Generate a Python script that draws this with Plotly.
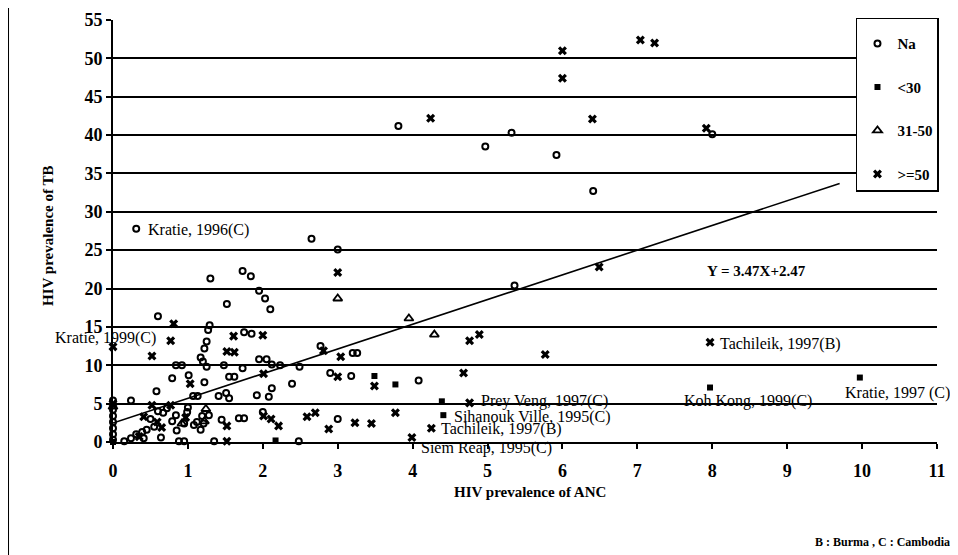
import plotly.graph_objects as go

# ---------------- data ----------------
na_x = [3.81, 5.32, 4.97, 5.92, 6.41, 8.0, 5.36, 0.31, 2.65, 3.0,
        1.3, 1.73, 1.84, 1.95, 2.03, 2.1, 1.52, 0.6,
        1.29, 1.27, 1.25, 1.22, 1.17, 1.2, 1.25,
        1.75, 1.85,
        0.84, 0.92, 1.48, 1.73, 1.95, 2.05, 2.12, 2.23, 2.49, 2.77, 3.2, 3.26,
        0.79, 1.01, 1.22, 1.55, 1.62, 2.12, 2.39, 2.9, 3.18, 4.08,
        0.58, 1.07, 1.13, 1.41, 1.51, 1.55, 1.92, 2.08,
        0.0, 0.24, 3.0,
        0.67, 0.72, 0.79, 0.95, 0.84, 0.99, 1.08, 1.12, 1.19, 1.21, 1.17, 1.28, 1.45, 1.68, 1.75, 2.0,
        0.15, 0.24, 0.31, 0.39, 0.45, 0.41, 0.64, 0.88, 0.95, 1.35, 2.48,
        0.0, 0.0, 0.0, 0.0, 0.0, 0.0,
        0.5, 0.55, 0.85, 1.0, 0.6]
na_y = [41.2, 40.3, 38.5, 37.4, 32.7, 40.1, 20.4, 27.8, 26.5, 25.1,
        21.3, 22.3, 21.6, 19.7, 18.7, 17.3, 18.0, 16.4,
        15.2, 14.6, 13.1, 12.2, 11.0, 10.5, 9.8,
        14.3, 14.1,
        10.0, 10.0, 10.0, 9.6, 10.8, 10.8, 10.1, 10.0, 9.8, 12.5, 11.6, 11.6,
        8.3, 8.7, 7.8, 8.5, 8.5, 7.0, 7.6, 9.0, 8.6, 8.0,
        6.6, 6.0, 6.0, 6.0, 6.4, 5.7, 6.1, 5.9,
        5.4, 5.4, 3.0,
        3.8, 4.4, 2.7, 2.4, 3.5, 3.9, 2.2, 2.6, 3.4, 2.4, 1.6, 3.5, 2.9, 3.1, 3.1, 3.9,
        0.1, 0.5, 1.0, 1.3, 1.6, 0.5, 0.6, 0.1, 0.1, 0.1, 0.1,
        0.3, 1.0, 1.8, 2.6, 3.4, 4.2,
        3.0, 2.0, 1.5, 4.5, 4.0]

lt30_x = [4.39, 4.41, 7.97, 9.97, 3.49, 3.77, 2.17, 0.0]
lt30_y = [5.3, 3.5, 7.1, 8.4, 8.6, 7.5, 0.2, 0.0]

mid_x = [3.0, 3.95, 4.29, 0.92, 1.22, 1.24, 0.0]
mid_y = [18.7, 16.1, 14.0, 2.4, 2.7, 4.3, 4.6]

ge50_x = [6.0, 6.0, 7.04, 7.23, 4.24, 6.4, 7.92, 6.49, 3.0,
          0.81, 0.77, 0.0, 0.52, 1.61, 2.0, 1.52, 1.62,
          2.81, 3.04, 4.76, 4.89, 5.77, 4.68, 7.97,
          2.01, 3.0, 3.49, 1.03, 4.76,
          2.59, 2.7, 2.88, 3.23, 3.45, 3.77, 4.25, 3.99,
          1.52, 2.01, 2.11, 2.21,
          1.52, 0.52, 0.41, 0.59, 0.77, 0.65, 0.97, 0.35, 0.0]
ge50_y = [51.0, 47.4, 52.4, 52.0, 42.2, 42.1, 40.9, 22.8, 22.1,
          15.4, 13.2, 12.4, 11.2, 13.8, 13.9, 11.8, 11.7,
          11.9, 11.1, 13.2, 14.0, 11.4, 9.0, 13.0,
          8.9, 8.5, 7.3, 7.6, 5.1,
          3.3, 3.8, 1.7, 2.5, 2.4, 3.8, 1.8, 0.6,
          2.1, 3.4, 3.0, 2.1,
          0.1, 4.8, 3.3, 2.6, 4.8, 1.9, 3.2, 0.7, 5.0]

trend_x = [0.0, 9.7]
trend_y = [2.47, 33.7]

x_ticks = list(range(0, 12))
y_ticks = list(range(0, 60, 5))

labels = ["Kratie, 1996(C)", "Kratie, 1999(C)", "Tachileik, 1997(B)", "Koh Kong, 1999(C)",
          "Kratie, 1997 (C)", "Prey Veng, 1997(C)", "Sihanouk Ville, 1995(C)",
          "Tachileik, 1997(B)", "Siem Reap, 1995(C)"]
label_x = [0.44, -0.8, 8.07, 7.6, 9.75, 4.88, 4.53, 4.35, 4.08]
label_y = [27.6, 13.6, 12.8, 5.4, 6.4, 5.4, 3.2, 1.7, -0.8]

X_MAX, Y_MAX = 11, 55

# ---------------- figure ----------------
SERIF = "Liberation Serif, Times New Roman, serif"
fig = go.Figure()

fig.add_trace(go.Scatter(x=trend_x, y=trend_y, mode="lines", line=dict(color="black", width=1.6),
                         showlegend=False, hoverinfo="skip"))
fig.add_trace(go.Scatter(x=na_x, y=na_y, mode="markers", name="Na", legendgroup="a",
                         marker=dict(symbol="circle-open", size=6, color="black", line=dict(width=2, color="black")),
                         cliponaxis=False))
fig.add_trace(go.Scatter(x=lt30_x, y=lt30_y, mode="markers", name="<30", legendgroup="b",
                         marker=dict(symbol="square", size=6, color="black"), cliponaxis=False))
fig.add_trace(go.Scatter(x=mid_x, y=mid_y, mode="markers", name="31-50", legendgroup="c",
                         marker=dict(symbol="triangle-up-open", size=8, color="black", line=dict(width=1.8, color="black")),
                         cliponaxis=False))
fig.add_trace(go.Scatter(x=ge50_x, y=ge50_y, mode="markers", name=">=50", legendgroup="d",
                         marker=dict(symbol="x", size=8, color="black", line=dict(width=0)),
                         cliponaxis=False))

# point labels (paper coords so labels outside the axis range still show)
for t, lx, ly in zip(labels, label_x, label_y):
    fig.add_annotation(xref="paper", yref="paper", x=lx / X_MAX, y=ly / Y_MAX, text=t, showarrow=False,
                       xanchor="left", yanchor="middle",
                       font=dict(family=SERIF, size=16, color="black"))

fig.add_annotation(x=7.9, y=22.3, text="<b>Y = 3.47X+2.47</b>", showarrow=False, xanchor="left",
                   yanchor="middle", font=dict(family=SERIF, size=15, color="black"))
fig.add_annotation(xref="paper", yref="paper", x=1.018, y=-0.238, text="<b>B : Burma , C : Cambodia</b>",
                   showarrow=False, xanchor="right", yanchor="middle",
                   font=dict(family=SERIF, size=12, color="black"))

# axis titles
fig.add_annotation(xref="paper", yref="paper", x=0.506, y=-0.118, text="<b>HIV prevalence of ANC</b>",
                   showarrow=False, xanchor="center", yanchor="middle",
                   font=dict(family=SERIF, size=15, color="black"))
fig.add_annotation(xref="paper", yref="paper", x=-0.079, y=0.488, text="<b>HIV prevalence of TB</b>",
                   showarrow=False, xanchor="center", yanchor="middle", textangle=-90,
                   font=dict(family=SERIF, size=15, color="black"))

# left frame line
fig.add_shape(type="line", xref="paper", yref="paper", x0=-0.1274, x1=-0.1274, y0=-0.27, y1=1.05,
              line=dict(color="black", width=2))

fig.update_layout(
    width=958, height=555,
    margin=dict(l=105, r=29, t=10, b=121),
    paper_bgcolor="white", plot_bgcolor="white",
    font=dict(family=SERIF, color="black"),
    showlegend=True,
    legend=dict(x=1.0024, y=1.005, xanchor="right", yanchor="top",
                bordercolor="black", borderwidth=1.5, bgcolor="white",
                tracegroupgap=21, itemwidth=30,
                title=dict(text=" ", font=dict(size=6)),
                font=dict(family=SERIF, size=15, color="black", weight="bold")),
    xaxis=dict(range=[0, X_MAX], tickvals=x_ticks, ticktext=[f"<b>{v}</b>" for v in x_ticks],
               showgrid=False, zeroline=False, showline=True, linecolor="black", linewidth=2,
               ticks="outside", ticklen=5, tickwidth=1.5, tickcolor="black", automargin=False,
               tickfont=dict(family=SERIF, size=18, color="black"), ticklabelstandoff=6),
    yaxis=dict(range=[0, Y_MAX], tickvals=y_ticks, ticktext=[f"<b>{v}</b>" for v in y_ticks],
               showgrid=True, gridcolor="black", gridwidth=1.5, zeroline=False,
               showline=True, linecolor="black", linewidth=2, automargin=False,
               ticks="outside", ticklen=5, tickwidth=1.5, tickcolor="black",
               tickfont=dict(family=SERIF, size=18, color="black")),
)

fig.write_html("out.html")
